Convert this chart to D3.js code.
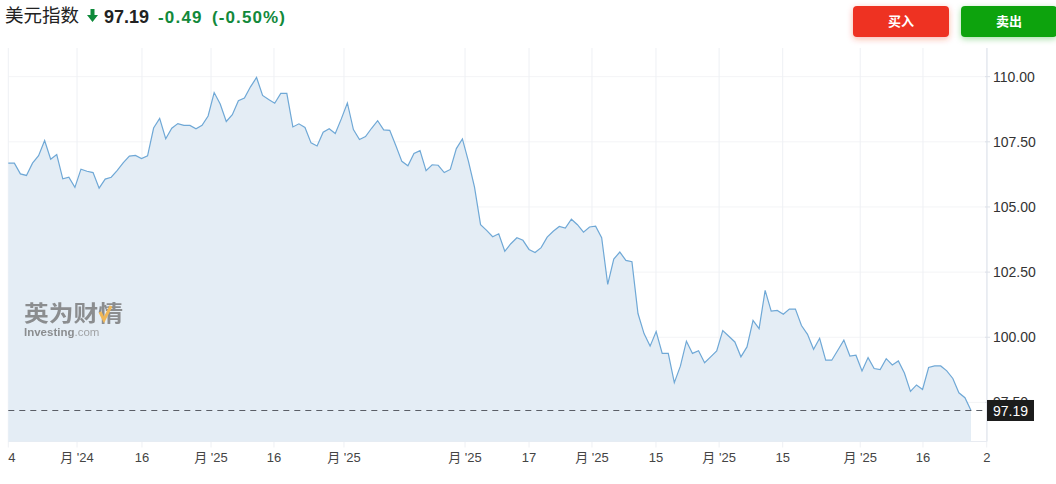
<!DOCTYPE html>
<html>
<head>
<meta charset="utf-8">
<script src="https://cdn.jsdelivr.net/npm/d3@7/dist/d3.min.js"></script>
<style>
html,body{margin:0;padding:0;background:#fff;}
svg{display:block;font-family:"Liberation Sans","Noto Sans CJK SC",Arial,sans-serif;}
</style>
</head>
<body>
<svg id="chart" width="1056" height="484"></svg>
<script>
// ---- data ----
const title = "美元指数";
const lastPrice = 97.19;
const change = "-0.49";
const changePct = "(-0.50%)";
const buyLabel = "买入";
const sellLabel = "卖出";
const values = [
  106.68,106.68,106.27,106.21,106.68,106.97,107.55,106.83,107.01,106.08,
  106.14,105.75,106.45,106.37,106.32,105.72,106.07,106.14,106.40,106.70,
  106.95,106.98,106.86,106.96,108.03,108.40,107.62,108.02,108.20,108.13,
  108.13,108.00,108.13,108.49,109.39,108.95,108.28,108.54,109.08,109.18,
  109.61,109.97,109.28,109.12,108.98,109.36,109.36,108.07,108.19,108.05,
  107.46,107.34,107.87,108.00,107.82,108.38,108.99,107.97,107.59,107.70,
  108.02,108.31,107.96,107.94,107.36,106.75,106.58,107.05,107.16,106.39,
  106.62,106.60,106.32,106.44,107.24,107.61,106.75,105.76,104.32,104.10,
  103.86,103.97,103.30,103.59,103.82,103.72,103.37,103.25,103.44,103.84,
  104.07,104.25,104.19,104.53,104.32,104.03,104.23,104.26,103.82,102.03,
  103.00,103.27,102.95,102.90,100.91,100.14,99.66,100.22,99.38,99.38,
  98.26,98.89,99.85,99.38,99.48,99.02,99.25,99.48,100.26,100.04,
  99.82,99.25,99.63,100.65,100.33,101.80,101.00,101.03,100.88,101.08,
  101.08,100.45,100.11,99.54,99.96,99.12,99.12,99.50,99.89,99.28,
  99.31,98.71,99.22,98.80,98.76,99.18,98.94,99.09,98.63,97.92,
  98.17,98.00,98.84,98.90,98.90,98.71,98.42,97.87,97.68,97.19
];
const xTickPos = [0, 11.35, 22.08, 33.48, 43.88, 55.44, 75.43, 86.0, 96.4, 106.97, 117.4, 127.9, 140.7, 151.07, 161.6];
const xTickLabels = ["4", "月 '24", "16", "月 '25", "16", "月 '25", "月 '25", "17", "月 '25", "15", "月 '25", "15", "月 '25", "16", "2"];
const yTicks = [97.5, 100, 102.5, 105, 107.5, 110];

// ---- layout ----
const svg = d3.select("#chart");
const plot = {left: 8.3, right: 987, top: 48, bottom: 441.5};
const x = d3.scaleLinear().domain([0, values.length - 1]).range([plot.left, 971]);
const y = d3.scaleLinear().domain([96.0, 111.1]).range([plot.bottom, plot.top]);

const defs = svg.append("defs");
function shadow(id, color){
  const f = defs.append("filter").attr("id", id).attr("x", "-20%").attr("y", "-40%").attr("width", "140%").attr("height", "190%");
  f.append("feDropShadow").attr("dx", 0).attr("dy", 2).attr("stdDeviation", 3)
    .attr("flood-color", color).attr("flood-opacity", 0.35);
}
shadow("shRed", "#ee3124");
shadow("shGreen", "#0aa30a");

// gridlines
svg.append("g").selectAll("line").data(yTicks).join("line")
  .attr("x1", plot.left).attr("x2", plot.right)
  .attr("y1", d => y(d)).attr("y2", d => y(d))
  .attr("stroke", "#f3f4f6").attr("stroke-width", 1);
svg.append("g").selectAll("line").data(xTickPos).join("line")
  .attr("x1", d => x(d)).attr("x2", d => x(d))
  .attr("y1", plot.top).attr("y2", plot.bottom + 6)
  .attr("stroke", "#eef0f4").attr("stroke-width", 1);

// plot frame (right + bottom)
svg.append("line").attr("x1", plot.right).attr("x2", plot.right).attr("y1", plot.top).attr("y2", plot.bottom)
  .attr("stroke", "#e3e7ee").attr("stroke-width", 1.2);
svg.append("line").attr("x1", plot.left).attr("x2", plot.right).attr("y1", plot.bottom).attr("y2", plot.bottom)
  .attr("stroke", "#e8ebf1").attr("stroke-width", 1);

// area + line
const area = d3.area().x((d, i) => x(i)).y0(plot.bottom).y1(d => y(d));
const line = d3.line().x((d, i) => x(i)).y(d => y(d));
svg.append("path").datum(values).attr("d", area).attr("fill", "#e4edf5");

// watermark
const wm = svg.append("g").attr("opacity", 0.75);
wm.append("text").attr("x", 24).attr("y", 321).text("英为财情")
  .attr("font-size", 22).attr("font-weight", 700).attr("fill", "#6e6e6e")
  .attr("textLength", 99).attr("lengthAdjust", "spacingAndGlyphs")
  .attr("font-family", "'Noto Sans CJK SC',sans-serif");
wm.append("path").attr("d", "M100,312 L104,320 L111,306")
  .attr("fill", "none").attr("stroke", "#f5a623").attr("stroke-width", 3);
const wt = wm.append("text").attr("x", 24).attr("y", 335.5).attr("font-size", 11.5).attr("fill", "#6e6e6e");
wt.append("tspan").text("Investing").attr("font-weight", 700);
wt.append("tspan").text(".com").attr("fill", "#8a8a8a");

svg.append("path").datum(values).attr("d", line)
  .attr("fill", "none").attr("stroke", "#6fa8d6").attr("stroke-width", 1.2);

// last price dashed line
svg.append("line").attr("x1", plot.left).attr("x2", 984).attr("y1", y(lastPrice)).attr("y2", y(lastPrice))
  .attr("stroke", "#5a5e66").attr("stroke-width", 1.2).attr("stroke-dasharray", "6,5");

// y axis labels
const ya = svg.append("g");
ya.selectAll("line").data(yTicks).join("line")
  .attr("x1", plot.right - 2).attr("x2", plot.right + 3)
  .attr("y1", d => y(d)).attr("y2", d => y(d)).attr("stroke", "#dde1e8");
ya.selectAll("text").data(yTicks).join("text")
  .attr("x", 993).attr("y", d => y(d)).attr("dy", "0.35em")
  .attr("font-size", 14).attr("fill", "#333")
  .text(d => d3.format(".2f")(d));

// last price tag
const tagY = y(lastPrice);
svg.append("rect").attr("x", 987).attr("y", tagY - 10.5).attr("width", 47).attr("height", 21).attr("fill", "#1c1c1c");
svg.append("text").attr("x", 1010.5).attr("y", tagY).attr("dy", "0.36em").attr("text-anchor", "middle")
  .attr("font-size", 14).attr("fill", "#fff").text(d3.format(".2f")(lastPrice));

// x axis labels
svg.append("g").selectAll("text").data(xTickPos).join("text")
  .attr("x", d => x(d)).attr("y", 462)
  .attr("text-anchor", (d, i) => i === 0 ? "start" : "middle")
  .attr("font-size", 13).attr("fill", "#444")
  .text((d, i) => xTickLabels[i]);

// header
const hdr = svg.append("g");
hdr.append("text").attr("x", 5).attr("y", 22).attr("font-size", 18.5).attr("fill", "#222")
  .attr("font-family", "'Noto Sans CJK SC',sans-serif").text(title);
hdr.append("path").attr("d", "M90.5,9 h4 v6 h3.5 l-5.5,7 l-5.5,-7 h3.5 z").attr("fill", "#0e8a3a");
hdr.append("text").attr("x", 104).attr("y", 22.5).attr("font-size", 18).attr("font-weight", 700).attr("fill", "#222")
  .text(d3.format(".2f")(lastPrice));
hdr.append("text").attr("x", 158).attr("y", 22.5).attr("font-size", 17).attr("font-weight", 700).attr("fill", "#12893b")
  .attr("letter-spacing", 1.2).text(change);
hdr.append("text").attr("x", 212).attr("y", 22.5).attr("font-size", 17).attr("font-weight", 700).attr("fill", "#12893b")
  .attr("letter-spacing", 1.1).text(changePct);

// buttons
const btns = [{label: buyLabel, x: 853, c: "#ee3124", f: "url(#shRed)"}, {label: sellLabel, x: 961, c: "#0aa30a", f: "url(#shGreen)"}];
const bg = svg.append("g").selectAll("g").data(btns).join("g");
bg.append("rect").attr("x", d => d.x).attr("y", 6).attr("width", 96).attr("height", 31).attr("rx", 4)
  .attr("fill", d => d.c).attr("filter", d => d.f);
bg.append("text").attr("x", d => d.x + 48).attr("y", 21.5).attr("dy", "0.36em").attr("text-anchor", "middle")
  .attr("font-size", 13).attr("font-weight", 700).attr("fill", "#fff")
  .attr("font-family", "'Noto Sans CJK SC',sans-serif").text(d => d.label);
</script>
</body>
</html>
